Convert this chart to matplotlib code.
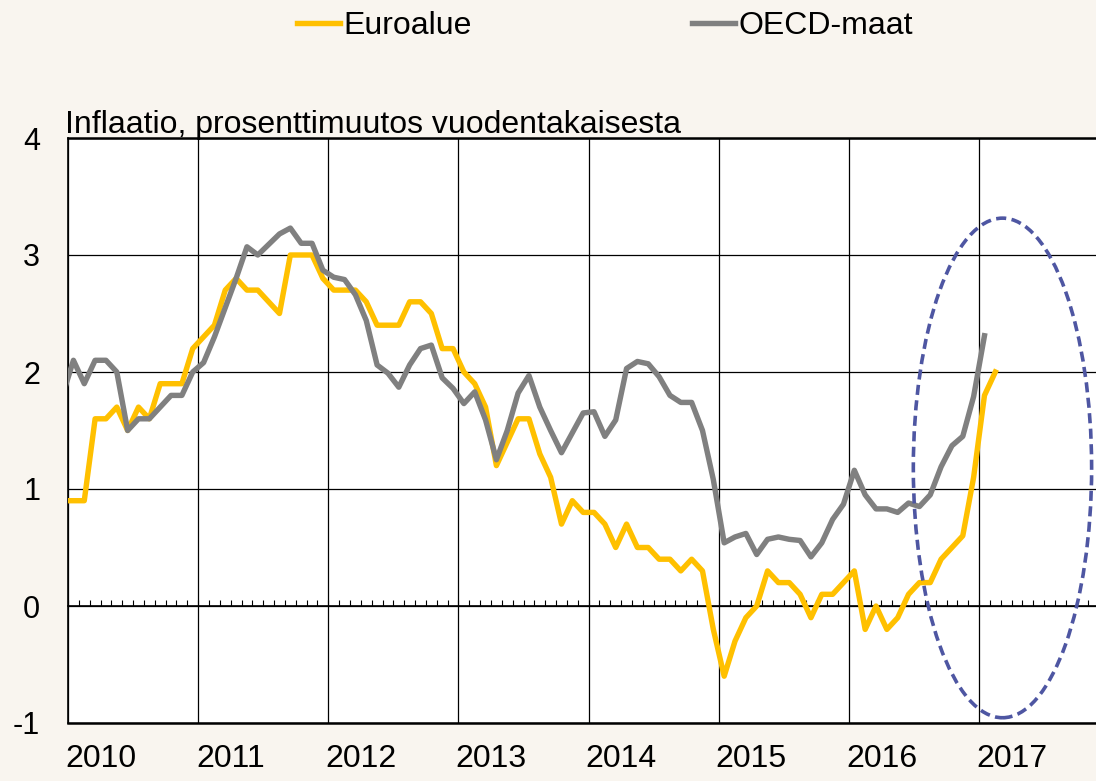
import numpy as np
import pandas as pd
import matplotlib
matplotlib.use("Agg")
import matplotlib.pyplot as plt
from matplotlib.patches import Ellipse

plt.rcParams['font.family'] = ['Liberation Sans', 'DejaVu Sans']
plt.rcParams['axes.unicode_minus'] = False

# monthly year-on-year inflation, %, Dec 2009 onwards
euro_start = "2009-12"
euro = [0.9,
        0.9, 0.9, 1.6, 1.6, 1.7, 1.5, 1.7, 1.6, 1.9, 1.9, 1.9, 2.2,
        2.3, 2.4, 2.7, 2.8, 2.7, 2.7, 2.6, 2.5, 3.0, 3.0, 3.0, 2.8,
        2.7, 2.7, 2.7, 2.6, 2.4, 2.4, 2.4, 2.6, 2.6, 2.5, 2.2, 2.2,
        2.0, 1.9, 1.7, 1.2, 1.4, 1.6, 1.6, 1.3, 1.1, 0.7, 0.9, 0.8,
        0.8, 0.7, 0.5, 0.7, 0.5, 0.5, 0.4, 0.4, 0.3, 0.4, 0.3, -0.2,
        -0.6, -0.3, -0.1, 0.0, 0.3, 0.2, 0.2, 0.1, -0.1, 0.1, 0.1, 0.2,
        0.3, -0.2, 0.0, -0.2, -0.1, 0.1, 0.2, 0.2, 0.4, 0.5, 0.6, 1.1,
        1.8, 2.0]
oecd_start = "2009-12"
oecd = [1.8,
        2.1, 1.9, 2.1, 2.1, 2.0, 1.5, 1.6, 1.6, 1.7, 1.8, 1.8, 2.0,
        2.08, 2.3, 2.55, 2.8, 3.07, 3.0, 3.09, 3.18, 3.23, 3.1, 3.1, 2.87,
        2.81, 2.79, 2.66, 2.44, 2.06, 1.99, 1.87, 2.06, 2.2, 2.23, 1.95, 1.86,
        1.73, 1.83, 1.59, 1.25, 1.5, 1.82, 1.97, 1.70, 1.5, 1.31, 1.48, 1.65,
        1.66, 1.45, 1.59, 2.03, 2.09, 2.07, 1.96, 1.80, 1.74, 1.74, 1.50, 1.08,
        0.54, 0.59, 0.62, 0.44, 0.57, 0.59, 0.57, 0.56, 0.42, 0.54, 0.74, 0.87,
        1.16, 0.95, 0.83, 0.83, 0.80, 0.88, 0.85, 0.95, 1.19, 1.37, 1.45, 1.79,
        2.31]
years = list(range(2010, 2018))
labels = ["Euroalue", "OECD-maat"]
colors = ["#FFC000", "#808080"]


def month_pos(start, n):
    p = pd.period_range(start, periods=n, freq="M")
    return p.year + (p.month - 0.5) / 12


fig = plt.figure(figsize=(10.96, 7.81), dpi=100, facecolor="#F9F5EF")
ax = fig.add_axes([68 / 1096, 58 / 781, 1041.2 / 1096, 585 / 781])
ax.set_facecolor("white")

x_euro = month_pos(euro_start, len(euro))
x_oecd = month_pos(oecd_start, len(oecd))
l1, = ax.plot(x_euro, euro, color=colors[0], lw=3.9, solid_joinstyle="round", zorder=3)
l2, = ax.plot(x_oecd, oecd, color=colors[1], lw=3.9, solid_joinstyle="round", zorder=4)

ax.set_xlim(2010, 2018)
ax.set_ylim(-1, 4)
ax.set_xticks(years)
ax.set_xticklabels([])
ax.set_xticks([y + 0.25 for y in years], [str(y) for y in years], minor=True)
ax.tick_params(axis="x", which="both", length=0)
ax.tick_params(axis="x", which="minor", labelsize=23, pad=15)
ax.set_yticks(range(-1, 5))
ax.tick_params(axis="y", length=0, labelsize=22, pad=20)
ax.grid(True, which="major", color="black", lw=0.9)
ax.set_axisbelow(True)
for side in ["top", "bottom"]:
    ax.spines[side].set_linewidth(1.8)
ax.spines["left"].set_linewidth(1.2)
ax.spines["right"].set_visible(False)

# zero line with monthly ticks
zero = ax.secondary_xaxis(0.2)
zero.set_xticks(np.arange(2010, 2018.001, 1 / 12))
zero.tick_params(direction="in", length=4.5, width=0.8, labelbottom=False)
zero.spines["bottom"].set_linewidth(1.2)

ell = Ellipse((2017.18, 1.18), 1.37, 4.27, fill=False, edgecolor="#4E56A2",
              lw=2.6, linestyle=(0, (2.8, 1.5)), clip_on=False, zorder=5)
ax.add_patch(ell)

fig.text(65 / 1096, 1 - 133 / 781, "Inflaatio, prosenttimuutos vuodentakaisesta",
         fontsize=23, va="baseline", ha="left")
fig.legend([l1, l2], labels, loc="center", bbox_to_anchor=(0.552, 0.967), ncol=2,
           frameon=False, handlelength=1.35, handletextpad=0.1, columnspacing=6.9,
           fontsize=23)

fig.savefig("out.png", dpi=100, facecolor=fig.get_facecolor())
